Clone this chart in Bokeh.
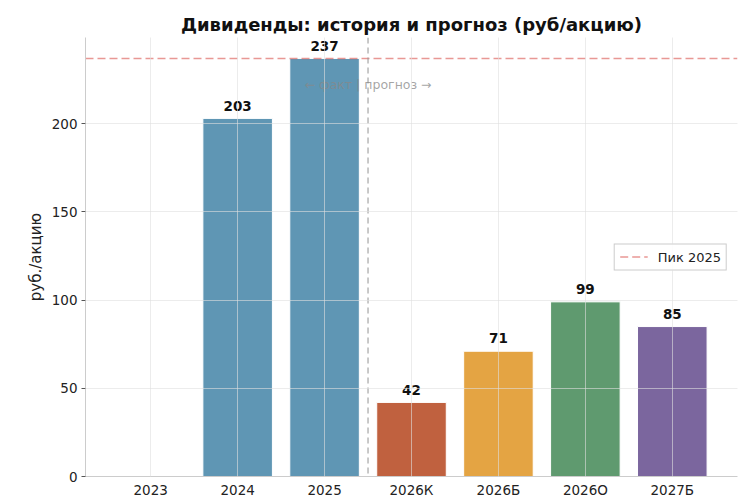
from bokeh.plotting import figure
from bokeh.models import Range1d, FixedTicker, Span, ColumnDataSource, Label, Legend, LegendItem
from bokeh.core.properties import value
from bokeh.embed import file_html
from bokeh.resources import INLINE

categories = ["2023", "2024", "2025", "2026К", "2026Б", "2026О", "2027Б"]
dividends = [0, 203, 237, 42, 71, 99, 85]
bar_colors = ["#5f96b4", "#5f96b4", "#5f96b4", "#c0613f", "#e4a443", "#5f9a6f", "#7b669e"]
value_labels = ["", "203", "237", "42", "71", "99", "85"]
peak_value = 237
split_position = 2.5

xs = list(range(len(categories)))
src = ColumnDataSource(dict(x=xs, top=dividends, color=bar_colors,
                            label=value_labels, ly=[v + 5 for v in dividends]))

FONT = "DejaVu Sans"

p = figure(width=750, height=500, output_backend="svg", toolbar_location=None,
           x_range=Range1d(-0.75, 6.75), y_range=Range1d(0, peak_value * 1.05),
           title="Дивиденды: история и прогноз (руб/акцию)",
           min_border_left=85, min_border_right=13, min_border_top=37, min_border_bottom=22)

p.title.text_font = FONT
p.title.text_font_size = "18px"
p.title.text_font_style = "bold"
p.title.align = "center"
p.title.text_color = "#111111"
p.title.standoff = 6

p.vbar(x="x", top="top", width=0.8, fill_color="color", line_color="white",
       line_width=1, fill_alpha=1.0, source=src)

p.text(x="x", y="ly", text="label", source=src, text_align="center",
       text_baseline="bottom", text_font=value(FONT), text_font_size="13.5px",
       text_font_style="bold", text_color="#111111", y_offset=1)

peak = p.line(x=[-0.75, 6.75], y=[peak_value, peak_value], line_color="#d9534f",
              line_alpha=0.6, line_dash="8 4", line_width=1.5)

p.add_layout(Span(location=split_position, dimension="height", line_color="#999999",
                  line_alpha=0.7, line_dash="6 4", line_width=1.5))

p.add_layout(Label(x=split_position, y=222, text="← факт | прогноз →", text_align="center",
                   text_baseline="middle", text_font=FONT, text_font_size="12.5px",
                   text_color="#888888", text_alpha=0.75))

legend = Legend(items=[LegendItem(label="Пик 2025", renderers=[peak])], location="right")
legend.label_text_font = FONT
legend.label_text_font_size = "13px"
legend.label_text_color = "#222222"
legend.border_line_color = "#cccccc"
legend.border_line_alpha = 1
legend.background_fill_alpha = 0.9
legend.glyph_width = 28
legend.glyph_height = 14
legend.padding = 5
legend.spacing = 0
legend.label_standoff = 10
legend.label_height = 14
legend.margin = 10
p.add_layout(legend)

p.xaxis.ticker = FixedTicker(ticks=xs)
p.xaxis.major_label_overrides = {i: c for i, c in enumerate(categories)}
p.yaxis.ticker = FixedTicker(ticks=[0, 50, 100, 150, 200])
p.yaxis.axis_label = "руб./акцию"

for ax in (p.xaxis, p.yaxis):
    ax.axis_line_color = "#cccccc"
    ax.major_tick_line_color = "#555555"
    ax.major_tick_out = 4
    ax.major_tick_in = 0
    ax.minor_tick_line_color = None
    ax.major_label_text_font = FONT
    ax.major_label_text_font_size = "13.5px"
    ax.major_label_text_color = "#222222"
    ax.major_label_standoff = 4
    ax.axis_label_text_font = FONT
    ax.axis_label_text_font_size = "15px"
    ax.axis_label_text_font_style = "normal"
    ax.axis_label_text_color = "#222222"
p.xaxis.major_tick_line_color = None
p.xaxis.major_tick_out = 0
p.xaxis.major_label_standoff = 5
p.yaxis.axis_label_standoff = 4

p.grid.level = "overlay"
p.grid.grid_line_color = "#e0e0e0"
p.grid.grid_line_alpha = 0.6
p.outline_line_color = None

open("out.html", "w").write(file_html(p, INLINE))
